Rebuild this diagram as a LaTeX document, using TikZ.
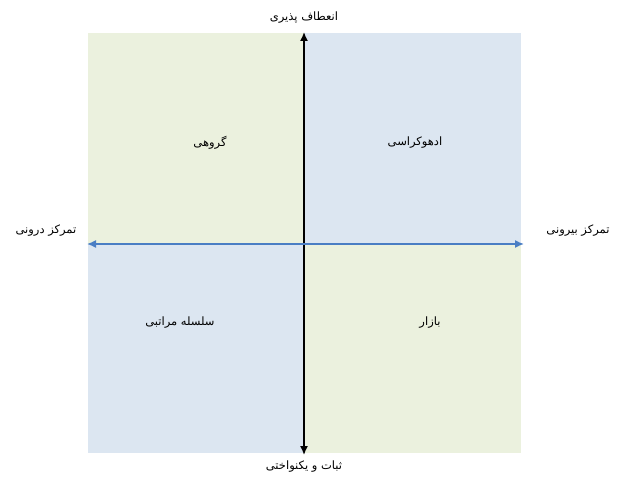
\documentclass[tikz,border=0pt]{standalone}
\usepackage{fontspec}
\newfontfamily\arabicfont[Script=Arabic]{DejaVu Sans}
\TeXXeTstate=1
\usetikzlibrary{arrows.meta}
\definecolor{qgreen}{HTML}{EBF1DE}
\definecolor{qblue}{HTML}{DCE6F1}
\definecolor{axisblue}{HTML}{4A7EC4}
\tikzset{
  lbl/.style={font=\arabicfont\fontsize{11.5}{13}\selectfont, inner sep=1pt},
  axisarrow/.style={{Latex[length=9pt,width=8pt]}-{Latex[length=9pt,width=8pt]}, line width=1.5pt}
}
\begin{document}
\begin{tikzpicture}[x=1pt,y=-1pt]
\useasboundingbox[fill=white] (0,0) rectangle (622,481);
\fill[qgreen] (88,33) rectangle (304,244);
\fill[qblue] (304,33) rectangle (521,244);
\fill[qblue] (88,244) rectangle (304,453);
\fill[qgreen] (304,244) rectangle (521,453);
\coordinate (top) at (304,32);
\coordinate (bot) at (304,455);
\coordinate (lft) at (87,244);
\coordinate (rgt) at (524,244);
\draw[axisarrow, black] (bot) -- (top);
\draw[axisarrow, axisblue] (lft) -- (rgt);
\node[lbl] (ttop) at (304,18) {\beginR انعطاف پذیری\endR};
\node[lbl] (tbot) at (304,467) {\beginR ثبات و یکنواختی\endR};
\node[lbl] (tlft) at (46,231) {\beginR تمرکز درونی\endR};
\node[lbl] (trgt) at (578,231) {\beginR تمرکز بیرونی\endR};
\node[lbl] (q1) at (210,143) {\beginR گروهی\endR};
\node[lbl] (q2) at (415,143) {\beginR ادهوکراسی\endR};
\node[lbl] (q3) at (180,323) {\beginR سلسله مراتبی\endR};
\node[lbl] (q4) at (430,323) {\beginR بازار\endR};
\end{tikzpicture}
\end{document}
